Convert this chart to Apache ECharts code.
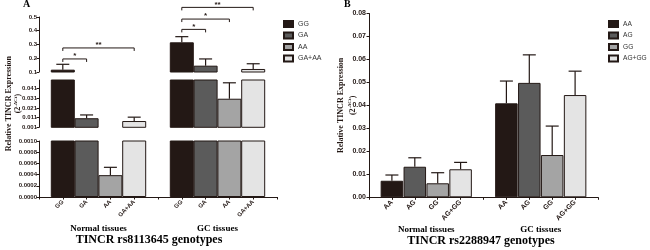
<!DOCTYPE html>
<html>
<head>
<meta charset="utf-8">
<script src="https://cdn.jsdelivr.net/npm/echarts@6/dist/echarts.min.js"></script>
<style>
html, body { margin: 0; padding: 0; background: #fff; }
#main { width: 650px; height: 250px; }
</style>
</head>
<body>
<div id="main"></div>
<script>
// panel A - TINCR rs8113645 (broken y axis, 3 segments)
var catsA = ['', 'GG', 'GA', 'AA', 'GA+AA', '', 'GG', 'GA', 'AA', 'GA+AA', ''];
var genoA = ['GG', 'GA', 'AA', 'GA+AA'];
var normalA = [0.117, 0.0104, 0.00039, 0.0075];
var normalSdA = [0.039, 0.0034, 0.00014, 0.004];
var gcA = [0.316, 0.146, 0.0306, 0.122];
var gcSdA = [0.041, 0.049, 0.0165, 0.038];
// significance brackets: [from category, height, to category]
var sigA = [[1, 0.195, 2], [1, 0.275, 4], [6, 0.41, 7], [6, 0.485, 8], [6, 0.57, 9]];
var sigTextA = ['*', '**', '*', '*', '**'];

// panel B - TINCR rs2288947
var catsB = ['', 'AA', 'AG', 'GG', 'AG+GG', '', 'AA', 'AG', 'GG', 'AG+GG', ''];
var genoB = ['AA', 'AG', 'GG', 'AG+GG'];
var normalB = [0.0072, 0.0133, 0.0061, 0.0122];
var normalSdB = [0.0025, 0.0039, 0.0046, 0.003];
var gcB = [0.0409, 0.0498, 0.0184, 0.0445];
var gcSdB = [0.0097, 0.0122, 0.0126, 0.0104];

var groups = ['Normal tissues', 'GC tissues'];

var colors = ['#231815', '#5b5b5b', '#a4a4a4', '#e4e4e4'];
var ink = '#231815';
var sans = 'Liberation Sans';
var serif = 'Liberation Serif';

// y segments of panel A, top to bottom
var segA = [
    { top: 17, height: 55, min: 0.1, max: 0.5, interval: 0.1, digits: 1 },
    { top: 80, height: 47.3, min: 0.001, max: 0.05, interval: 0.01, digits: 3 },
    { top: 141, height: 56, min: 0, max: 0.001, interval: 0.0002, digits: 4 }
];

var myChart = echarts.init(document.getElementById('main'), null, { renderer: 'canvas' });

function renderErr(params, api) {
    var p0 = api.coord([api.value(0), api.value(1)]);
    var p1 = api.coord([api.value(0), api.value(2)]);
    var half = 6.5;
    return {
        type: 'group',
        children: [
            { type: 'line', shape: { x1: p0[0], y1: p0[1], x2: p1[0], y2: p1[1] }, style: { stroke: ink, lineWidth: 1.2 } },
            { type: 'line', shape: { x1: p1[0] - half, y1: p1[1], x2: p1[0] + half, y2: p1[1] }, style: { stroke: ink, lineWidth: 1.2 } }
        ]
    };
}

function renderSig(params, api) {
    var a = api.coord([api.value(0), api.value(1)]);
    var b = api.coord([api.value(2), api.value(1)]);
    return {
        type: 'group',
        children: [
            { type: 'polyline', shape: { points: [[a[0], a[1] + 3], [a[0], a[1]], [b[0], b[1]], [b[0], b[1] + 3]] }, style: { stroke: ink, lineWidth: 1, fill: null } },
            { type: 'text', style: { text: sigTextA[params.dataIndex], x: (a[0] + b[0]) / 2, y: a[1] + 1, align: 'center', verticalAlign: 'bottom', font: 'bold 8px "' + sans + '"', fill: ink } }
        ]
    };
}

function barData(cats, normal, gc, k, min) {
    var data = cats.map(function () { return null; });
    [normal, gc].forEach(function (vals, grp) {
        if (vals[k] > min) data[grp * 5 + 1 + k] = vals[k];
    });
    return data;
}

function errData(normal, normalSd, gc, gcSd, min, max) {
    var out = [];
    [[normal, normalSd], [gc, gcSd]].forEach(function (p, grp) {
        p[0].forEach(function (v, k) {
            if (v >= min && v < max) out.push([grp * 5 + 1 + k, v, v + p[1][k]]);
        });
    });
    return out;
}

var nameStyle = function (lh) {
    return {
        fontFamily: serif, fontWeight: 'bold', fontSize: 8, lineHeight: lh, color: ink,
        rich: { sup: { fontFamily: serif, fontWeight: 'bold', fontSize: 5, verticalAlign: 'top', color: ink } }
    };
};

var grid = [], xAxis = [], yAxis = [], series = [];

segA.forEach(function (seg, g) {
    grid.push({ left: 39, top: seg.top, width: 238, height: seg.height });
    xAxis.push({
        gridIndex: g,
        type: 'category',
        data: catsA,
        boundaryGap: false,
        show: g === 2,
        axisLine: { lineStyle: { color: ink, width: 1 } },
        axisTick: { interval: 0, length: 2.5, lineStyle: { color: ink } },
        axisLabel: { interval: 0, rotate: 45, fontSize: 6, fontWeight: 'bold', fontFamily: sans, color: ink, margin: 4 }
    });
    var y = {
        gridIndex: g,
        type: 'value',
        min: seg.min,
        max: seg.max,
        interval: seg.interval,
        axisLine: { show: true, lineStyle: { color: ink, width: 1 } },
        axisTick: { show: true, length: 2.5, lineStyle: { color: ink } },
        splitLine: { show: false },
        axisLabel: {
            fontSize: 6, fontWeight: 'bold', fontFamily: sans, color: ink, margin: 2,
            showMaxLabel: g !== 1,
            formatter: (function (d) { return function (v) { return v.toFixed(d); }; })(seg.digits)
        }
    };
    if (g === 1) {
        y.name = 'Relative TINCR Expression\n(2{sup|-ΔCt})';
        y.nameLocation = 'middle';
        y.nameRotate = 90;
        y.nameGap = 16;
        y.nameMoveOverlap = false;
        y.nameTextStyle = nameStyle(9.5);
    }
    yAxis.push(y);

    genoA.forEach(function (name, k) {
        series.push({
            type: 'bar', name: 'A:' + name, xAxisIndex: g, yAxisIndex: g,
            data: barData(catsA, normalA, gcA, k, seg.min),
            barWidth: 24, barGap: '-100%',
            itemStyle: { color: colors[k], borderColor: ink, borderWidth: 1 },
            silent: true
        });
    });
    series.push({
        type: 'custom', xAxisIndex: g, yAxisIndex: g, z: 5,
        data: errData(normalA, normalSdA, gcA, gcSdA, seg.min, seg.max),
        renderItem: renderErr, silent: true
    });
});

series.push({
    type: 'custom', xAxisIndex: 0, yAxisIndex: 0, z: 5,
    data: sigA, renderItem: renderSig, silent: true
});

// group labels panel A (xAxis 3)
xAxis.push({
    gridIndex: 2, type: 'category', data: groups, position: 'bottom', offset: 24,
    axisLine: { show: false }, axisTick: { show: false },
    axisLabel: { fontFamily: serif, fontWeight: 'bold', fontSize: 9, color: '#000', margin: 3 }
});

// panel B (grid 3, xAxis 4 + 5, yAxis 3)
grid.push({ left: 369, top: 13.5, width: 229, height: 183.8 });
xAxis.push({
    gridIndex: 3, type: 'category', data: catsB, boundaryGap: false,
    axisLine: { lineStyle: { color: ink, width: 1 } },
    axisTick: { interval: 0, length: 2.5, lineStyle: { color: ink } },
    axisLabel: { interval: 0, rotate: 45, fontSize: 7, fontWeight: 'bold', fontFamily: sans, color: ink, margin: 4 }
});
xAxis.push({
    gridIndex: 3, type: 'category', data: groups, position: 'bottom', offset: 25,
    axisLine: { show: false }, axisTick: { show: false },
    axisLabel: { fontFamily: serif, fontWeight: 'bold', fontSize: 9, color: '#000', margin: 3 }
});
yAxis.push({
    gridIndex: 3, type: 'value', min: 0, max: 0.08, interval: 0.01,
    axisLine: { show: true, lineStyle: { color: ink, width: 1 } },
    axisTick: { show: true, length: 2.5, lineStyle: { color: ink } },
    splitLine: { show: false },
    axisLabel: { fontSize: 7, fontWeight: 'bold', fontFamily: sans, color: ink, margin: 3, formatter: function (v) { return v.toFixed(2); } },
    name: 'Relative TINCR Expression\n(2{sup|-ΔCt})',
    nameLocation: 'middle', nameRotate: 90, nameGap: 10, nameMoveOverlap: false,
    nameTextStyle: nameStyle(12)
});
genoB.forEach(function (name, k) {
    series.push({
        type: 'bar', name: 'B:' + name, xAxisIndex: 4, yAxisIndex: 3,
        data: barData(catsB, normalB, gcB, k, 0),
        barWidth: 22.5, barGap: '-100%',
        itemStyle: { color: colors[k], borderColor: ink, borderWidth: 1 },
        silent: true
    });
});
series.push({
    type: 'custom', xAxisIndex: 4, yAxisIndex: 3, z: 5,
    data: errData(normalB, normalSdB, gcB, gcSdB, 0, 1),
    renderItem: renderErr, silent: true
});

var legendBase = {
    orient: 'vertical', icon: 'rect', itemWidth: 9, itemHeight: 6, itemGap: 3.5, padding: 0,
    textStyle: { fontSize: 7, fontFamily: sans, color: '#333' },
    formatter: function (n) { return n.slice(2); },
    selectedMode: false
};

var option = {
    animation: false,
    backgroundColor: '#fff',
    grid: grid,
    xAxis: xAxis,
    yAxis: yAxis,
    legend: [
        echarts.util.merge({ left: 283, top: 20, data: genoA.map(function (n) { return 'A:' + n; }) }, legendBase),
        echarts.util.merge({ left: 608, top: 20, textStyle: { fontSize: 6.6 }, data: genoB.map(function (n) { return 'B:' + n; }) }, legendBase)
    ],
    graphic: [
        { type: 'text', x: 23, y: -1, style: { text: 'A', font: 'bold 10px "' + serif + '"', fill: '#000' } },
        { type: 'text', x: 344, y: -1, style: { text: 'B', font: 'bold 10px "' + serif + '"', fill: '#000' } },
        { type: 'text', x: 149, y: 240, style: { text: 'TINCR rs8113645 genotypes', align: 'center', verticalAlign: 'middle', font: 'bold 12px "' + serif + '"', fill: '#000' } },
        { type: 'text', x: 481, y: 241, style: { text: 'TINCR rs2288947 genotypes', align: 'center', verticalAlign: 'middle', font: 'bold 12px "' + serif + '"', fill: '#000' } }
    ],
    series: series
};

myChart.setOption(option);
</script>
</body>
</html>
